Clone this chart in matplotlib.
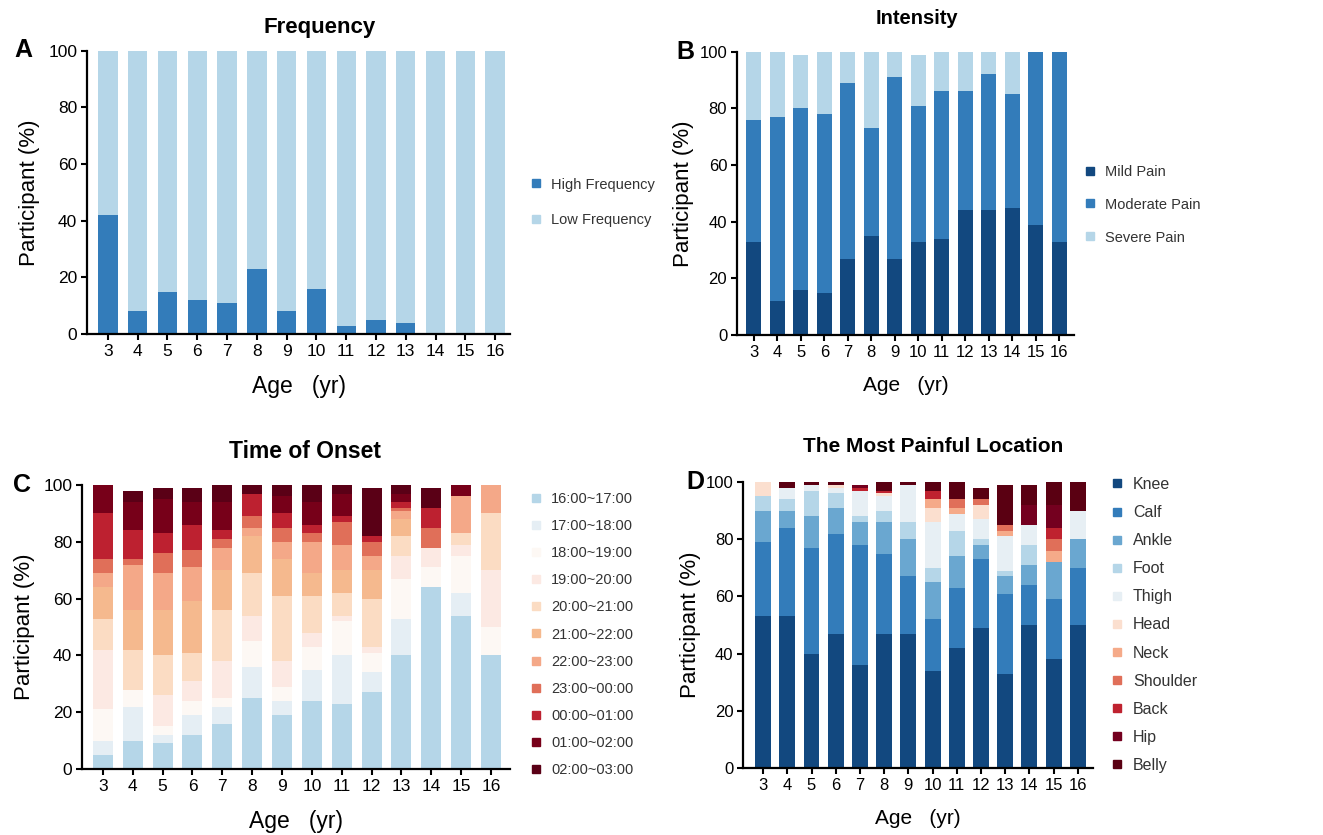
import matplotlib
matplotlib.use("Agg")
import matplotlib.pyplot as plt
from matplotlib.lines import Line2D
import numpy as np

plt.rcParams["font.family"] = ["Liberation Sans", "DejaVu Sans"]

ages = [3, 4, 5, 6, 7, 8, 9, 10, 11, 12, 13, 14, 15, 16]

# A: frequency
freq_labels = ["High Frequency", "Low Frequency"]
freq_high = [42, 8, 15, 12, 11, 23, 8, 16, 3, 5, 4, 0, 0, 0]
freq_low = [58, 92, 85, 88, 89, 77, 92, 84, 97, 95, 96, 100, 100, 100]
freq_colors = ["#337cba", "#b5d6e8"]

# B: intensity
int_labels = ["Mild Pain", "Moderate Pain", "Severe Pain"]
int_mild = [33, 12, 16, 15, 27, 35, 27, 33, 34, 44, 44, 45, 39, 33]
int_moderate = [43, 65, 64, 63, 62, 38, 64, 48, 52, 42, 48, 40, 61, 67]
int_severe = [24, 23, 19, 22, 11, 27, 9, 18, 14, 14, 8, 15, 0, 0]
int_colors = ["#12487f", "#337cba", "#b5d6e8"]

# C: time of onset
onset_labels = ["16:00~17:00", "17:00~18:00", "18:00~19:00", "19:00~20:00",
                "20:00~21:00", "21:00~22:00", "22:00~23:00", "23:00~00:00",
                "00:00~01:00", "01:00~02:00", "02:00~03:00"]
t16_17 = [5, 10, 9, 12, 16, 25, 19, 24, 23, 27, 40, 64, 54, 40]
t17_18 = [5, 12, 3, 7, 6, 11, 5, 11, 17, 7, 13, 0, 8, 0]
t18_19 = [11, 6, 3, 5, 3, 9, 5, 8, 12, 7, 14, 7, 13, 10]
t19_20 = [21, 0, 11, 7, 13, 9, 9, 5, 2, 2, 8, 7, 4, 20]
t20_21 = [11, 14, 14, 10, 18, 15, 23, 13, 8, 17, 7, 0, 4, 20]
t21_22 = [11, 14, 16, 18, 14, 13, 13, 8, 8, 10, 6, 0, 0, 0]
t22_23 = [5, 16, 13, 12, 8, 3, 6, 11, 9, 5, 3, 0, 13, 10]
t23_00 = [5, 2, 7, 6, 3, 4, 5, 3, 8, 5, 1, 7, 0, 0]
t00_01 = [16, 10, 7, 9, 3, 8, 5, 3, 2, 2, 2, 7, 0, 0]
t01_02 = [10, 10, 12, 8, 10, 0, 6, 8, 8, 0, 3, 0, 4, 0]
t02_03 = [0, 4, 4, 5, 6, 3, 4, 6, 3, 17, 3, 7, 0, 0]
onset_colors = ["#b5d6e8", "#e5eef4", "#fdf8f4", "#fce9e3", "#fbdcc3",
                "#f5b98e", "#f4a888", "#e06f59", "#bd2130", "#770019", "#5a0016"]

# D: most painful location
loc_labels = ["Knee", "Calf", "Ankle", "Foot", "Thigh", "Head", "Neck",
              "Shoulder", "Back", "Hip", "Belly"]
knee = [53, 53, 40, 47, 36, 47, 47, 34, 42, 49, 33, 50, 38, 50]
calf = [26, 31, 37, 35, 42, 28, 20, 18, 21, 24, 28, 14, 21, 20]
ankle = [11, 6, 11, 9, 8, 11, 13, 13, 11, 5, 6, 7, 13, 10]
foot = [5, 4, 9, 5, 2, 4, 6, 5, 9, 2, 2, 7, 0, 0]
thigh = [0, 4, 2, 2, 9, 5, 13, 16, 6, 7, 12, 7, 0, 10]
head = [5, 0, 0, 1, 0, 1, 0, 5, 0, 5, 0, 0, 0, 0]
neck = [0, 0, 0, 0, 0, 0, 0, 3, 2, 0, 2, 0, 4, 0]
shoulder = [0, 0, 0, 0, 0, 0, 0, 0, 3, 2, 2, 0, 4, 0]
back = [0, 0, 0, 0, 1, 1, 0, 3, 0, 0, 0, 0, 4, 0]
hip = [0, 0, 0, 0, 1, 0, 0, 0, 0, 0, 0, 7, 8, 0]
belly = [0, 2, 1, 1, 0, 3, 1, 3, 6, 4, 14, 7, 8, 10]
loc_colors = ["#12487f", "#337cba", "#6aa7d0", "#b5d6e8", "#e7eff4", "#fbdfcf",
              "#f5aa89", "#e06f59", "#bf222f", "#74001f", "#5a0012"]

fig = plt.figure(figsize=(13.23, 8.35), dpi=100)


def stacked(ax, series, colors, labels, width, xlim, tick_size, xl_size, ypad):
    x = np.arange(len(ages))
    bottom = np.zeros(len(ages))
    for vals, c, lab in zip(series, colors, labels):
        ax.bar(x, vals, width, bottom=bottom, color=c, label=lab, linewidth=0)
        bottom += np.array(vals)
    ax.set_xlim(*xlim)
    ax.set_ylim(0, 100)
    ax.set_xticks(x)
    ax.set_xticklabels(ages)
    ax.set_yticks([0, 20, 40, 60, 80, 100])
    for s in ["top", "right"]:
        ax.spines[s].set_visible(False)
    for s in ["left", "bottom"]:
        ax.spines[s].set_linewidth(1.6)
    ax.tick_params(axis="both", length=4, width=1.5, pad=3, labelsize=tick_size)
    ax.set_ylabel("Participant (%)", fontsize=16, labelpad=ypad)
    ax.set_xlabel("Age   (yr)", fontsize=xl_size, labelpad=12)


def legend(ax, colors, labels, anchor, spacing, size):
    handles = [Line2D([], [], marker="s", linestyle="", color=c, markersize=6)
               for c in colors]
    ax.legend(handles, labels, loc="center left", bbox_to_anchor=anchor,
              bbox_transform=fig.transFigure, frameon=False, fontsize=size,
              labelspacing=spacing, handlelength=0.8, handletextpad=0.6,
              borderpad=0, borderaxespad=0, labelcolor="#333333")


axA = fig.add_axes([0.0658, 0.600, 0.3197, 0.3393])
stacked(axA, [freq_high, freq_low], freq_colors, freq_labels, 0.65, (-0.7, 13.5),
        12.5, 16.5, 6)
legend(axA, freq_colors, freq_labels, (0.401, 0.7575), 1.5, 10.5)

axB = fig.add_axes([0.557, 0.5988, 0.2547, 0.3393])
stacked(axB, [int_mild, int_moderate, int_severe], int_colors, int_labels, 0.64,
        (-0.72, 13.62), 12, 15, 4)
legend(axB, int_colors, int_labels, (0.8195, 0.755), 1.3, 10.5)

axC = fig.add_axes([0.062, 0.079, 0.3235, 0.3401])
stacked(axC, [t16_17, t17_18, t18_19, t19_20, t20_21, t21_22, t22_23, t23_00,
              t00_01, t01_02, t02_03], onset_colors, onset_labels, 0.67,
        (-0.7, 13.64), 12.5, 16.5, 6)
legend(axC, onset_colors, onset_labels, (0.401, 0.24), 0.9, 10.5)

axD = fig.add_axes([0.5616, 0.0802, 0.2646, 0.3425])
stacked(axD, [knee, calf, ankle, foot, thigh, head, neck, shoulder, back, hip,
              belly], loc_colors, loc_labels, 0.66, (-0.83, 13.63), 12, 15, 3)
legend(axD, loc_colors, loc_labels, (0.8395, 0.2515), 0.82, 11.5)

titles = ["Frequency", "Intensity", "Time of Onset", "The Most Painful Location"]
title_pos = [(0.2419, 0.967), (0.693, 0.978), (0.2305, 0.459), (0.705, 0.465)]
title_size = [16, 14.5, 16.5, 15]
for t, (tx, ty), sz in zip(titles, title_pos, title_size):
    fig.text(tx, ty, t, ha="center", va="center", fontsize=sz, fontweight="bold")

letters = ["A", "B", "C", "D"]
letter_pos = [(0.0174, 0.94), (0.518, 0.938), (0.0166, 0.419), (0.5255, 0.423)]
for t, (tx, ty) in zip(letters, letter_pos):
    fig.text(tx, ty, t, ha="center", va="center", fontsize=18, fontweight="bold")

fig.savefig("out.png", dpi=100)
